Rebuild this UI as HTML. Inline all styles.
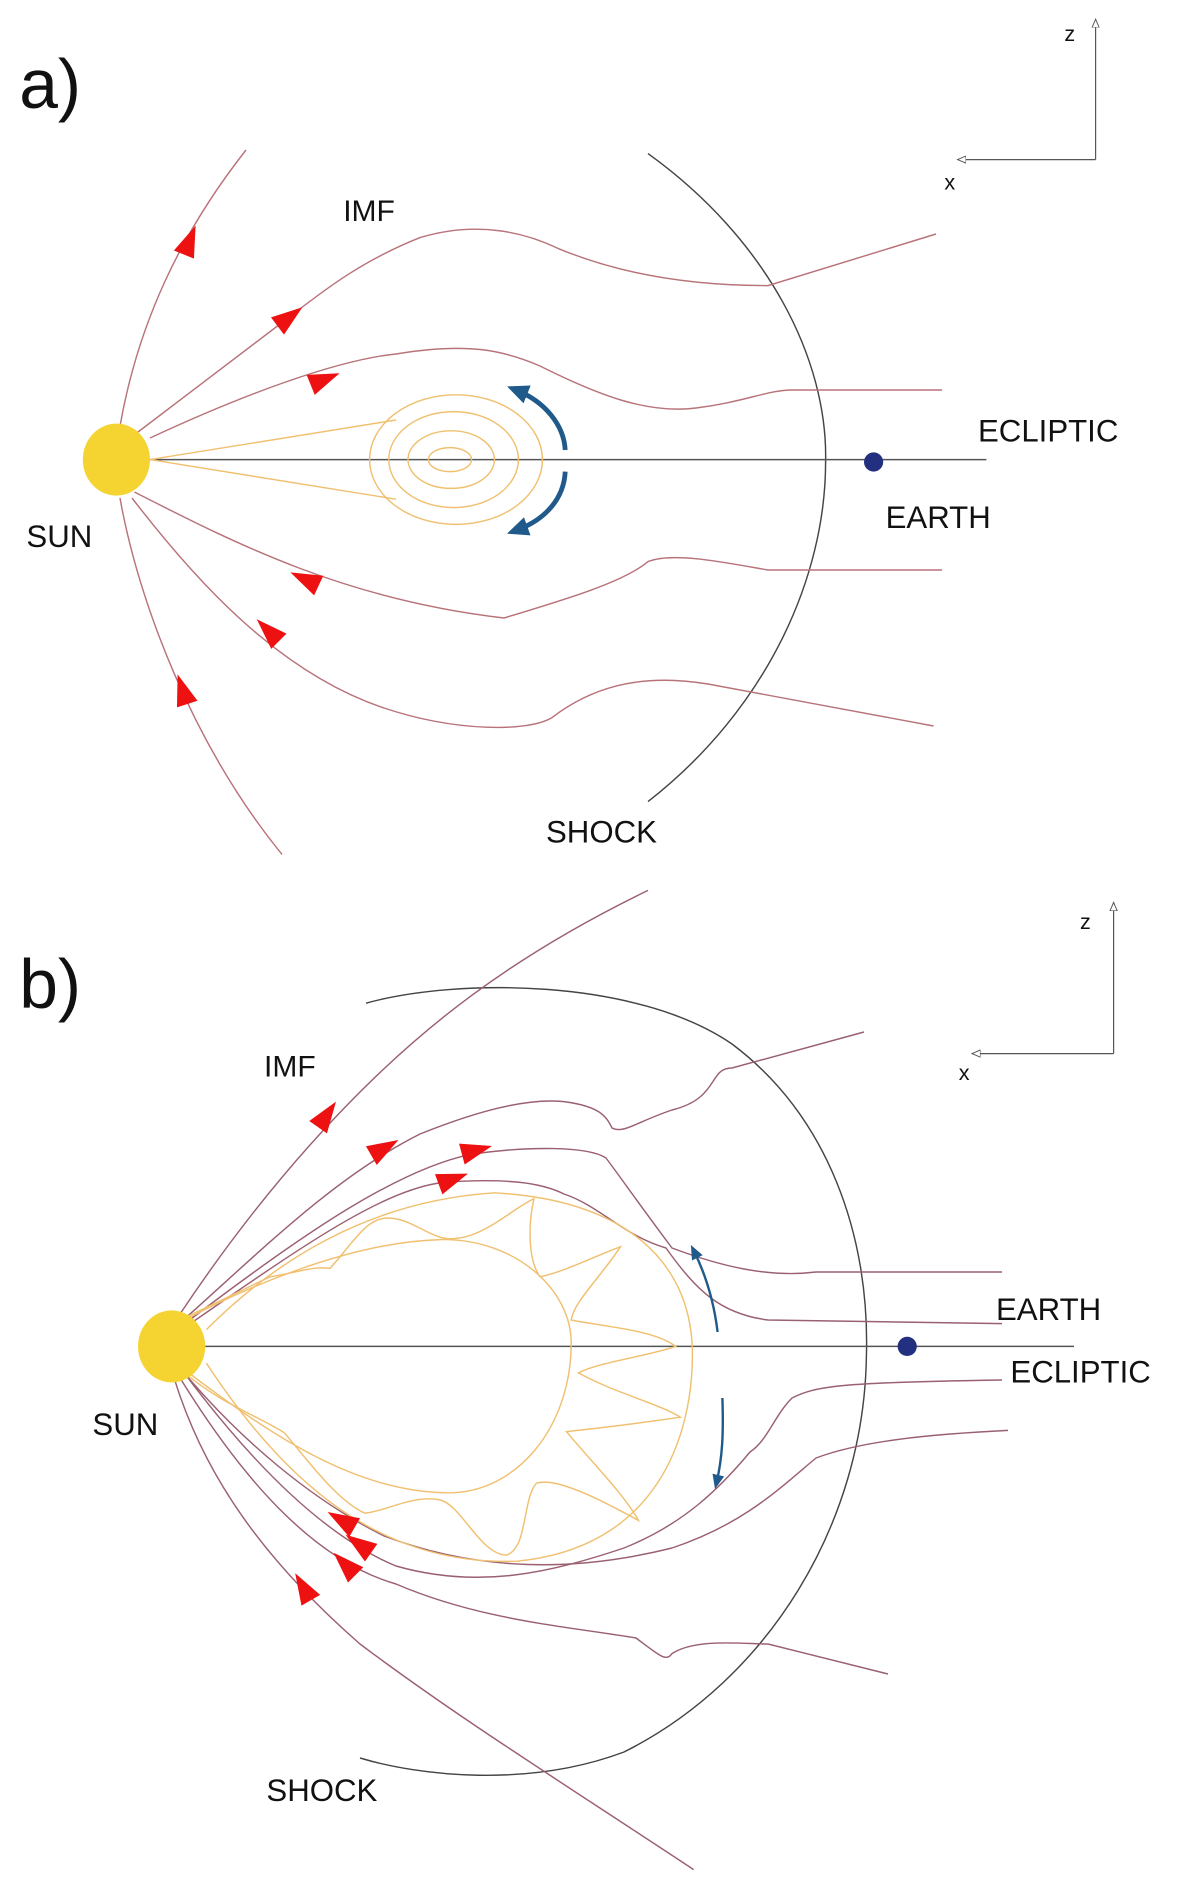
<!DOCTYPE html>
<html><head><meta charset="utf-8"><style>
html,body{margin:0;padding:0;background:#fff;}
svg{display:block;}
text{font-family:"Liberation Sans",sans-serif;fill:#111;}
</style></head><body>
<svg width="1200" height="1878" viewBox="0 0 1000 1565" xmlns="http://www.w3.org/2000/svg">
<defs>
<marker id="open" markerWidth="8" markerHeight="8" refX="7" refY="4" orient="auto" markerUnits="userSpaceOnUse"><path d="M0,1 L7,4 L0,7 Z" fill="#fff" stroke="#555" stroke-width="0.8"/></marker>
<marker id="blue" markerWidth="20" markerHeight="20" refX="10" refY="10" orient="auto" markerUnits="userSpaceOnUse"><path d="M0,2 L18,10 L0,18 Z" fill="#1f5a8a"/></marker>
<marker id="blue2" markerWidth="14" markerHeight="14" refX="7" refY="7" orient="auto" markerUnits="userSpaceOnUse"><path d="M0,2 L12,7 L0,12 Z" fill="#1f5a8a"/></marker>
</defs>
<g fill="none" stroke-width="1.2">
<!-- PANEL A -->
<path d="M540,128 C640,200 690,300 688,385 C688,480 640,590 540,668" stroke="#444"/>
<line x1="125" y1="383" x2="822" y2="383" stroke="#555"/>
<g stroke="#b8737a">
<path d="M100,355 C115,270 150,195 205,125"/>
<path d="M115,360 L240,265 C270,242 300,218 350,198 C400,183 440,195 465,207 C520,230 580,238 640,238 L780,195"/>
<path d="M125,365 C200,330 280,300 330,295 C390,285 420,292 450,305 C500,330 540,345 580,340 C620,335 640,325 660,325 L785,325"/>
<path d="M112,410 C200,455 290,500 420,515 C470,500 520,485 540,468 C560,460 600,468 640,475 L785,475"/>
<path d="M110,415 C160,480 230,560 320,590 C380,610 440,610 460,598 C490,575 530,560 590,570 L778,605"/>
<path d="M100,415 C115,500 160,620 235,712"/>
</g>
<g stroke="#f0c070">
<path d="M125,383 L330,350 M125,383 L330,416"/>
<ellipse cx="380" cy="383" rx="72" ry="54"/>
<ellipse cx="378" cy="383" rx="54" ry="40"/>
<ellipse cx="376" cy="383" rx="36" ry="24"/>
<ellipse cx="375" cy="383" rx="18" ry="10"/>
</g>
<path d="M471,375 C470,355 455,335 430,325" stroke="#1f5a8a" stroke-width="4" marker-end="url(#blue)"/>
<path d="M471,393 C470,415 455,433 430,442" stroke="#1f5a8a" stroke-width="4" marker-end="url(#blue)"/>
<!-- PANEL B -->
<path d="M305,836 C380,815 530,815 610,870 C690,930 725,1030 722,1130 C720,1270 640,1400 520,1460 C440,1490 350,1480 300,1465" stroke="#444"/>
<line x1="171" y1="1122" x2="895" y2="1122" stroke="#555"/>
<g stroke="#9a6070">
<path d="M150,1095 C200,1020 250,960 300,910 C350,860 420,800 540,742"/>
<path d="M155,1098 C220,1040 280,980 350,945 C400,925 440,915 470,918 C500,922 505,930 510,940 C520,945 530,935 560,925 C600,915 590,890 610,890 L720,860"/>
<path d="M158,1100 C250,1030 330,975 392,962 C440,955 490,955 505,965 C520,985 530,1000 560,1040 C600,1055 640,1065 680,1060 L835,1060"/>
<path d="M160,1102 C250,1040 320,990 372,985 C420,982 450,985 470,995 C500,1005 520,1030 555,1040 C580,1075 600,1095 640,1100 L835,1103"/>
<path d="M150,1140 C200,1200 260,1250 320,1280 C400,1310 480,1310 560,1290 C620,1270 650,1240 680,1215 C720,1200 780,1195 840,1192"/>
<path d="M152,1142 C210,1220 270,1280 330,1305 C400,1325 460,1310 520,1290 C570,1270 600,1240 625,1210 C640,1200 645,1180 660,1165 C680,1155 700,1152 835,1150"/>
<path d="M148,1145 C200,1230 260,1300 330,1320 C400,1350 470,1355 530,1365 C550,1380 555,1385 560,1378 C580,1365 620,1370 640,1370 L740,1395"/>
<path d="M145,1148 C170,1230 220,1300 300,1370 C380,1430 460,1480 578,1558"/>
</g>
<g stroke="#f0c070">
<path d="M172,1108 C240,1040 320,1000 412,994 C520,1000 575,1050 577,1125 C578,1200 545,1290 431,1301 C320,1305 240,1240 172,1136"/>
<path d="M150,1102 C200,1075 290,1035 367,1033 C430,1032 476,1075 476,1119 C476,1190 430,1244 374,1244 C300,1244 230,1200 152,1140"/>
<path d="M150,1100 L225,1064 C250,1060 260,1055 275,1057 C295,1035 305,1015 323,1015 C345,1015 360,1035 380,1032 C405,1030 430,1005 445,999 C440,1020 440,1050 450,1064 C470,1060 500,1045 517,1039 C500,1065 478,1085 476,1100 C500,1105 545,1108 563,1122 C540,1130 500,1135 482,1144 C510,1160 550,1170 567,1181 C540,1185 500,1190 472,1193 C490,1215 520,1245 532,1267 C510,1255 465,1230 447,1236 C435,1250 440,1290 422,1296 C400,1295 385,1255 367,1250 C345,1245 320,1260 304,1261 C280,1250 255,1215 237,1194 C215,1180 185,1170 155,1145"/>
</g>
<path d="M598,1110 C595,1085 588,1062 578,1042" stroke="#1f5a8a" stroke-width="2" marker-end="url(#blue2)"/>
<path d="M602,1165 C603,1195 602,1215 597,1236" stroke="#1f5a8a" stroke-width="2" marker-end="url(#blue2)"/>
<!-- axes -->
<g stroke="#555" stroke-width="1">
<path d="M913,133 L913,16" marker-end="url(#open)"/>
<path d="M913,133 L798,133" marker-end="url(#open)"/>
<path d="M928,878 L928,752" marker-end="url(#open)"/>
<path d="M928,878 L810,878" marker-end="url(#open)"/>
</g>
</g>
<g fill="#ee1111">
<path d="M0,0 L-26,-9 L-26,9 Z" transform="translate(163,188) rotate(-68)"/>
<path d="M0,0 L-26,-9 L-26,9 Z" transform="translate(252,256) rotate(-37)"/>
<path d="M0,0 L-26,-9 L-26,9 Z" transform="translate(283,311) rotate(-22)"/>
<path d="M0,0 L-26,-9 L-26,9 Z" transform="translate(242,477) rotate(-155)"/>
<path d="M0,0 L-26,-9 L-26,9 Z" transform="translate(214,516) rotate(-135)"/>
<path d="M0,0 L-26,-9 L-26,9 Z" transform="translate(148,562) rotate(-108)"/>
<path d="M0,0 L-26,-9 L-26,9 Z" transform="translate(280,918) rotate(-55)"/>
<path d="M0,0 L-26,-9 L-26,9 Z" transform="translate(332,950) rotate(-30)"/>
<path d="M0,0 L-26,-9 L-26,9 Z" transform="translate(410,955) rotate(-15)"/>
<path d="M0,0 L-26,-9 L-26,9 Z" transform="translate(390,978) rotate(-20)"/>
<path d="M0,0 L-26,-9 L-26,9 Z" transform="translate(273,1260) rotate(-150)"/>
<path d="M0,0 L-26,-9 L-26,9 Z" transform="translate(288,1279) rotate(-145)"/>
<path d="M0,0 L-26,-9 L-26,9 Z" transform="translate(278,1294) rotate(-135)"/>
<path d="M0,0 L-26,-9 L-26,9 Z" transform="translate(246,1311) rotate(-120)"/>
</g>
<ellipse cx="97" cy="383" rx="28" ry="30" fill="#f5d432"/>
<circle cx="728" cy="385" r="8" fill="#233080"/>
<ellipse cx="143" cy="1122" rx="28" ry="30" fill="#f5d432"/>
<circle cx="756" cy="1122" r="8" fill="#233080"/>
<text x="16" y="90" font-size="58">a)</text>
<text x="286" y="184" font-size="25">IMF</text>
<text x="815" y="368" font-size="26">ECLIPTIC</text>
<text x="738" y="440" font-size="26">EARTH</text>
<text x="22" y="456" font-size="26">SUN</text>
<text x="455" y="702" font-size="26">SHOCK</text>
<text x="887" y="34" font-size="18">z</text>
<text x="787" y="158" font-size="18">x</text>
<text x="16" y="840" font-size="58">b)</text>
<text x="220" y="897" font-size="25">IMF</text>
<text x="830" y="1100" font-size="26">EARTH</text>
<text x="842" y="1152" font-size="26">ECLIPTIC</text>
<text x="77" y="1196" font-size="26">SUN</text>
<text x="222" y="1501" font-size="26">SHOCK</text>
<text x="900" y="774" font-size="18">z</text>
<text x="799" y="900" font-size="18">x</text>
</svg>
</body></html>
